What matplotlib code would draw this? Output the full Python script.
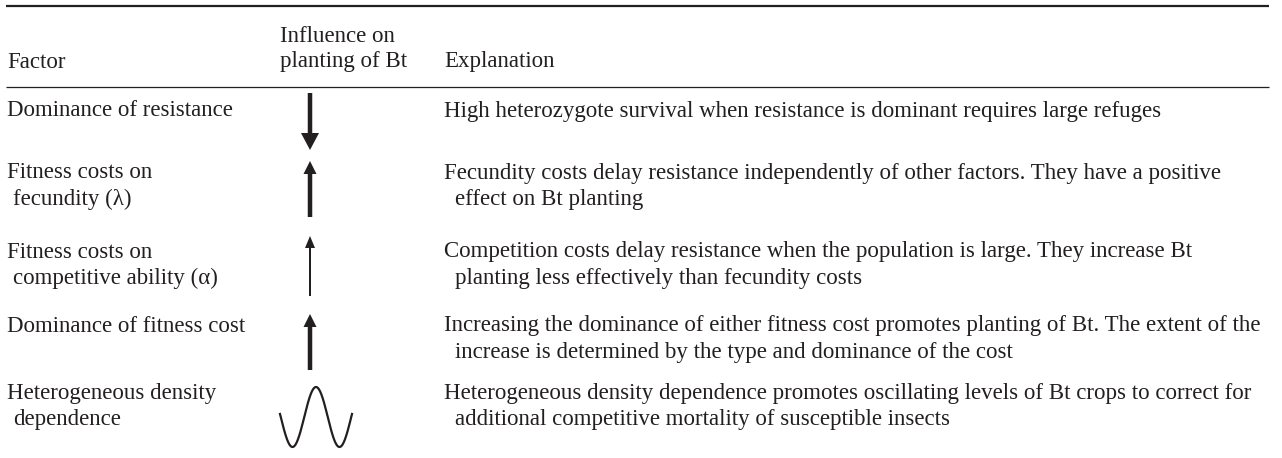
import numpy as np
import matplotlib
matplotlib.use("Agg")
import matplotlib.pyplot as plt
from matplotlib.patches import FancyArrow

# table content
headers = ["Factor", "Influence on\nplanting of Bt", "Explanation"]
factors = [
    ["Dominance of resistance"],
    ["Fitness costs on", "fecundity (λ)"],
    ["Fitness costs on", "competitive ability (α)"],
    ["Dominance of fitness cost"],
    ["Heterogeneous density", "dependence"],
]
influence = ["down", "up", "up", "up", "wave"]
strength = ["strong", "strong", "weak", "strong", None]
explanations = [
    ["High heterozygote survival when resistance is dominant requires large refuges"],
    ["Fecundity costs delay resistance independently of other factors. They have a positive",
     "effect on Bt planting"],
    ["Competition costs delay resistance when the population is large. They increase Bt",
     "planting less effectively than fecundity costs"],
    ["Increasing the dominance of either fitness cost promotes planting of Bt. The extent of the",
     "increase is determined by the type and dominance of the cost"],
    ["Heterogeneous density dependence promotes oscillating levels of Bt crops to correct for",
     "additional competitive mortality of susceptible insects"],
]

W, H = 1282, 458
ink = "#231f20"
plt.rcParams["font.family"] = ["Liberation Serif", "DejaVu Serif"]
fs = 16.5

fig = plt.figure(figsize=(W / 100, H / 100), dpi=100)
ax = fig.add_axes([0, 0, 1, 1])
ax.set_xlim(0, W)
ax.set_ylim(H, 0)
ax.axis("off")

col_x = [7, 280, 444]
indent = [6, 0, 11]
row_y = [111, 173, 252, 326, 393]
line_gap = 26.5

# rules
ax.plot([6, 1269], [6, 6], color=ink, lw=1.6, solid_capstyle="butt")
ax.plot([6, 1269], [87, 87], color=ink, lw=0.9, solid_capstyle="butt")

# header
ax.text(col_x[0], 62, headers[0], fontsize=fs, color=ink, va="center")
h1 = headers[1].split("\n")
ax.text(col_x[1], 36, h1[0], fontsize=fs, color=ink, va="center")
ax.text(col_x[1], 62, h1[1], fontsize=fs, color=ink, va="center")
ax.text(col_x[2], 62, headers[2], fontsize=fs, color=ink, va="center")

# body
for i in range(len(factors)):
    y0 = row_y[i]
    for j, line in enumerate(factors[i]):
        ax.text(col_x[0] + (indent[0] if j else 0), y0 + j * line_gap, line,
                fontsize=fs, color=ink, va="center")
    for j, line in enumerate(explanations[i]):
        ax.text(col_x[2] + (indent[2] if j else 0), y0 + j * line_gap, line,
                fontsize=fs, color=ink, va="center")

    # influence symbol
    xc = 310
    if influence[i] == "wave":
        xs = np.linspace(280, 352, 200)
        ys = 417 - 30 * np.cos(2 * np.pi * (xs - 316) / 47)
        ax.plot(xs, ys, color=ink, lw=1.6)
    else:
        top, bot = y0 - 12, y0 + 44
        if i == 0:
            top, bot = y0 - 18, y0 + 39
        if i == 2:
            top = y0 - 16
        if strength[i] == "strong":
            sw, hw, hl = 4.5, 13 if i else 18, 13 if i else 17
        else:
            sw, hw, hl = 2, 10, 12
        if influence[i] == "up":
            ax.add_patch(FancyArrow(xc, bot, 0, top - bot, width=sw, head_width=hw,
                                    head_length=hl, length_includes_head=True,
                                    color=ink, lw=0))
        else:
            ax.add_patch(FancyArrow(xc, top, 0, bot - top, width=sw, head_width=hw,
                                    head_length=hl, length_includes_head=True,
                                    color=ink, lw=0))

fig.savefig("out.png", dpi=100)
